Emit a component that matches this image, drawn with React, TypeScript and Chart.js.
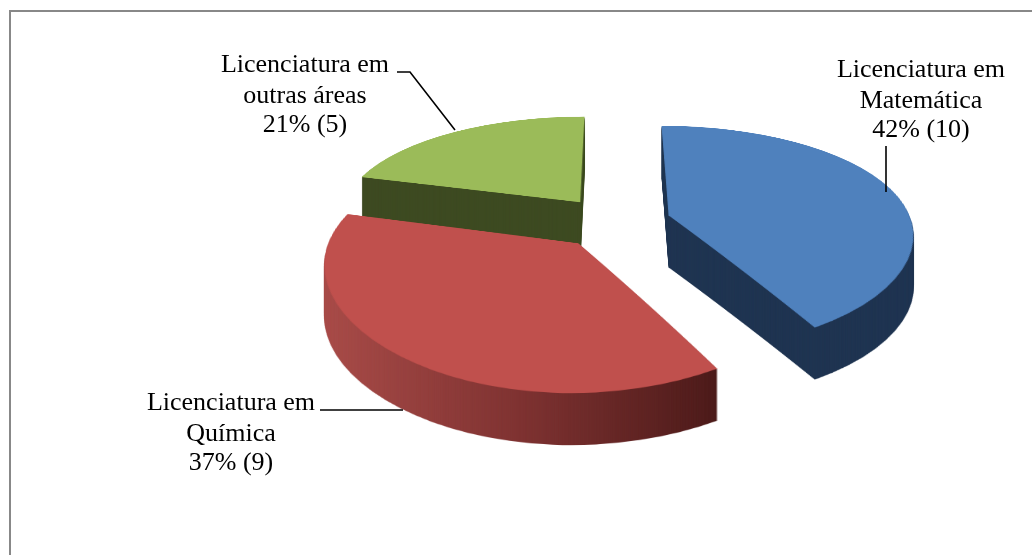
import React, { useEffect, useRef } from 'react';
import { Chart, registerables } from 'chart.js';

Chart.register(...registerables);

// ---- data ----
const categories = ['Licenciatura em Matemática', 'Licenciatura em Química', 'Licenciatura em outras áreas'];
const labelFirstLines = ['Licenciatura em', 'Licenciatura em', 'Licenciatura em'];
const labelSecondLines = ['Matemática', 'Química', 'outras áreas'];
const counts = [10, 9, 5];
const percents = ['42%', '37%', '21%'];
const topColors = ['#4F81BD', '#C0504D', '#9BBB59'];
const sideColors = ['#1F3451', '#7A302E', '#3D4A21'];

// ---- 3D perspective look ----
const FLAT_RADIUS = 243; // flat pie radius (px)
const EXPLODE = 57; // explosion distance (flat px)
const PERSP_Y = 0.2; // vertical perspective strength
const PERSP_X = 0.15; // horizontal perspective strength
const VSCALE = 110; // vertical size of unit radius at centre
const CX = 614;
const CY = 222;
const DEPTH = 52;

// label layout (screen px)
const labelLayout = [
  { x: 921, y: 77, line: [[886, 146], [886, 192]] },
  { x: 231, y: 410, line: [[320, 410], [403, 410]] },
  { x: 305, y: 72, line: [[397, 72], [410, 72], [455, 130]] },
];

function makeCanvas(w: number, h: number) {
  const c = document.createElement('canvas');
  c.width = w;
  c.height = h;
  return c;
}

const pie3d = {
  id: 'pie3d',
  beforeDraw(chart: any) {
    const ctx = chart.ctx;
    ctx.save();
    ctx.fillStyle = '#ffffff';
    ctx.fillRect(0, 0, chart.width, chart.height);
    ctx.strokeStyle = '#888888';
    ctx.lineWidth = 2;
    ctx.strokeRect(10, 11, 1200, 800);
    ctx.restore();
  },
  beforeDatasetsDraw(chart: any) {
    const ctx = chart.ctx;
    const W = chart.width;
    const H = chart.height;
    const meta = chart.getDatasetMeta(0);
    const OFF_H = 760;
    const OFF_CY = 380;
    const order = [2, 0, 1];
    const vOf = (Y: number) => {
      const t = (Y - CY) / VSCALE;
      return t / (1 + PERSP_Y * t);
    };
    for (const i of order) {
      const arc: any = meta.data[i];
      if (!arc) continue;
      const R = arc.outerRadius;
      const mid = (arc.startAngle + arc.endAngle) / 2;
      // flat (top view) slice, exploded
      const off = makeCanvas(W, OFF_H);
      const octx = off.getContext('2d')!;
      octx.translate(Math.cos(mid) * EXPLODE, OFF_CY - arc.y + Math.sin(mid) * EXPLODE);
      const orig = arc.options;
      arc.options = Object.assign({}, orig, { borderWidth: 0, offset: 0 });
      arc.draw(octx);
      arc.options = orig;
      // perspective projection, row by row
      const top = makeCanvas(W, H);
      const tctx = top.getContext('2d')!;
      tctx.imageSmoothingEnabled = true;
      const vmax = 1 + EXPLODE / R + 0.05;
      const yTop = Math.floor(CY + (VSCALE * -vmax) / (1 + PERSP_Y * vmax));
      const yBot = Math.ceil(CY + (VSCALE * vmax) / (1 - PERSP_Y * vmax));
      for (let Y = yTop; Y <= yBot; Y++) {
        const v0 = vOf(Y);
        const v1 = vOf(Y + 1);
        const s = 1 / (1 - PERSP_X * (v0 + v1) / 2);
        const sy0 = OFF_CY + v0 * R;
        const sy1 = OFF_CY + v1 * R;
        if (sy0 < 0 || sy1 > OFF_H) continue;
        tctx.drawImage(off, 0, sy0, W, sy1 - sy0, CX - arc.x * s, Y, W * s, 1);
      }
      // side colour version
      const side = makeCanvas(W, H);
      const sctx = side.getContext('2d')!;
      sctx.drawImage(top, 0, 0);
      sctx.globalCompositeOperation = 'source-in';
      if (i === 1) {
        const g = sctx.createLinearGradient(CX - 1.2 * R, 0, CX + 0.45 * R, 0);
        g.addColorStop(0, '#A94C49');
        g.addColorStop(0.5, '#7E3231');
        g.addColorStop(1, '#4B1A19');
        sctx.fillStyle = g;
      } else {
        sctx.fillStyle = sideColors[i];
      }
      sctx.fillRect(0, 0, W, H);
      for (let d = DEPTH; d >= 1; d -= 1) ctx.drawImage(side, 0, d);
      ctx.drawImage(top, 0, 0);
    }
    return false;
  },
  afterDraw(chart: any) {
    const ctx = chart.ctx;
    ctx.save();
    ctx.fillStyle = '#000000';
    ctx.font = '26px "Liberation Serif", "Times New Roman", serif';
    ctx.textAlign = 'center';
    ctx.textBaseline = 'alphabetic';
    for (let i = 0; i < counts.length; i++) {
      const L = labelLayout[i];
      ctx.fillText(labelFirstLines[i], L.x, L.y);
      ctx.fillText(labelSecondLines[i], L.x, L.y + 30.5);
      ctx.fillText(`${percents[i]} (${counts[i]})`, L.x, L.y + 60);
      ctx.beginPath();
      ctx.lineWidth = 1.6;
      ctx.strokeStyle = '#000000';
      L.line.forEach((p, j) => (j === 0 ? ctx.moveTo(p[0], p[1]) : ctx.lineTo(p[0], p[1])));
      ctx.stroke();
    }
    ctx.restore();
  },
};

export default function App() {
  const ref = useRef<HTMLCanvasElement | null>(null);
  useEffect(() => {
    if (!ref.current) return;
    const chart = new Chart(ref.current, {
      type: 'pie',
      data: {
        labels: categories,
        datasets: [
          {
            data: counts,
            backgroundColor: topColors,
            borderWidth: 0,
          },
        ],
      },
      options: {
        responsive: false,
        animation: false,
        events: [],
        radius: FLAT_RADIUS,
        layout: { padding: 0 },
        plugins: {
          legend: { display: false },
          tooltip: { enabled: false },
        },
      } as any,
      plugins: [pie3d],
    });
    return () => chart.destroy();
  }, []);
  return (
    <div style={{ position: 'fixed', left: 0, top: 0, width: 1032, height: 555, background: '#fff' }}>
      <canvas ref={ref} width={1032} height={555} style={{ display: 'block' }} />
    </div>
  );
}
